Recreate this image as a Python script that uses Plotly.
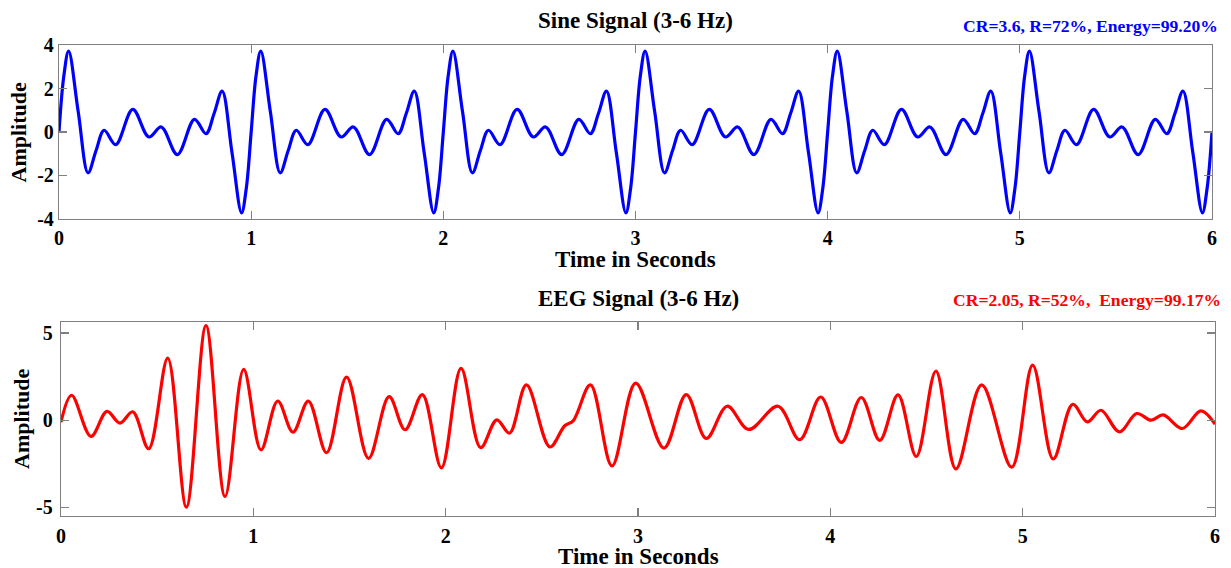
import plotly.graph_objects as go

# ---------------- data ----------------
# Sine signal (3-6 Hz): extrema and a few intermediate points, 6 periods
sine_t = [
    0.000, 0.025, 0.050, 0.100, 0.151, 0.193, 0.235, 0.295, 0.384, 0.468, 0.532, 0.616, 0.705, 0.765, 0.807, 0.849, 0.900, 0.950, 0.975,
    1.000, 1.025, 1.050, 1.100, 1.151, 1.193, 1.235, 1.295, 1.384, 1.468, 1.532, 1.616, 1.705, 1.765, 1.807, 1.849, 1.900, 1.950, 1.975,
    2.000, 2.025, 2.050, 2.100, 2.151, 2.193, 2.235, 2.295, 2.384, 2.468, 2.532, 2.616, 2.705, 2.765, 2.807, 2.849, 2.900, 2.950, 2.975,
    3.000, 3.025, 3.050, 3.100, 3.151, 3.193, 3.235, 3.295, 3.384, 3.468, 3.532, 3.616, 3.705, 3.765, 3.807, 3.849, 3.900, 3.950, 3.975,
    4.000, 4.025, 4.050, 4.100, 4.151, 4.193, 4.235, 4.295, 4.384, 4.468, 4.532, 4.616, 4.705, 4.765, 4.807, 4.849, 4.900, 4.950, 4.975,
    5.000, 5.025, 5.050, 5.100, 5.151, 5.193, 5.235, 5.295, 5.384, 5.468, 5.532, 5.616, 5.705, 5.765, 5.807, 5.849, 5.900, 5.950, 5.975,
    6.000,
]
sine_y = [
    0.00, 2.56, 3.72, 0.93, -1.88, -0.85, 0.08, -0.58, 1.04, -0.23, 0.23, -1.04, 0.58, -0.08, 0.85, 1.88, -0.93, -3.72, -2.56,
    0.00, 2.56, 3.72, 0.93, -1.88, -0.85, 0.08, -0.58, 1.04, -0.23, 0.23, -1.04, 0.58, -0.08, 0.85, 1.88, -0.93, -3.72, -2.56,
    0.00, 2.56, 3.72, 0.93, -1.88, -0.85, 0.08, -0.58, 1.04, -0.23, 0.23, -1.04, 0.58, -0.08, 0.85, 1.88, -0.93, -3.72, -2.56,
    0.00, 2.56, 3.72, 0.93, -1.88, -0.85, 0.08, -0.58, 1.04, -0.23, 0.23, -1.04, 0.58, -0.08, 0.85, 1.88, -0.93, -3.72, -2.56,
    0.00, 2.56, 3.72, 0.93, -1.88, -0.85, 0.08, -0.58, 1.04, -0.23, 0.23, -1.04, 0.58, -0.08, 0.85, 1.88, -0.93, -3.72, -2.56,
    0.00, 2.56, 3.72, 0.93, -1.88, -0.85, 0.08, -0.58, 1.04, -0.23, 0.23, -1.04, 0.58, -0.08, 0.85, 1.88, -0.93, -3.72, -2.56,
    0.00,
]

# EEG signal (3-6 Hz): extrema
eeg_t = [
    0.000, 0.055, 0.156, 0.239, 0.307, 0.373, 0.456, 0.555, 0.652, 0.754,
    0.853, 0.950, 1.040, 1.127, 1.206, 1.286, 1.381, 1.485, 1.599, 1.706,
    1.789, 1.879, 1.978, 2.080, 2.182, 2.266, 2.332, 2.420, 2.542, 2.619,
    2.663, 2.753, 2.865, 2.988, 3.135, 3.251, 3.355, 3.464, 3.575, 3.728,
    3.841, 3.950, 4.057, 4.161, 4.257, 4.352, 4.447, 4.549, 4.653, 4.787,
    4.943, 5.052, 5.159, 5.260, 5.336, 5.407, 5.503, 5.593, 5.667, 5.731,
    5.830, 5.927, 6.000,
]
eeg_y = [
    -0.12, 1.43, -0.93, 0.50, -0.17, 0.48, -1.64, 3.56, -4.99, 5.43,
    -4.38, 2.91, -1.70, 1.10, -0.69, 1.09, -1.87, 2.47, -2.19, 1.35,
    -0.55, 1.47, -2.74, 2.97, -1.58, 0.02, -0.74, 2.02, -1.54, -0.32,
    -0.04, 2.02, -2.63, 2.13, -1.60, 1.47, -1.05, 0.80, -0.53, 0.80,
    -1.12, 1.33, -1.28, 1.30, -1.16, 1.45, -2.08, 2.82, -2.80, 2.02,
    -2.70, 3.16, -2.23, 0.91, -0.10, 0.57, -0.67, 0.38, 0.00, 0.30,
    -0.48, 0.53, -0.23,
]

x_tick_vals = [0, 1, 2, 3, 4, 5, 6]
x_tick_text = ["0", "1", "2", "3", "4", "5", "6"]
sine_tick_vals = [-4, -2, 0, 2, 4]
sine_tick_text = ["-4", "-2", "0", "2", "4"]
eeg_tick_vals = [-5, 0, 5]
eeg_tick_text = ["-5", "0", "5"]

title_top = "Sine Signal (3-6 Hz)"
title_bottom = "EEG Signal (3-6 Hz)"
stats_top = "CR=3.6, R=72%, Energy=99.20%"
stats_bottom = "CR=2.05, R=52%,  Energy=99.17%"
x_title = "Time in Seconds"
y_title = "Amplitude"

# ---------------- figure ----------------
SERIF = "Liberation Serif, Times New Roman, serif"

fig = go.Figure()
fig.add_trace(go.Scatter(
    x=sine_t, y=sine_y, mode="lines", xaxis="x", yaxis="y",
    line=dict(color="#0000FF", width=3.2, shape="spline", smoothing=1.0),
    showlegend=False, hoverinfo="skip"))
fig.add_trace(go.Scatter(
    x=eeg_t, y=eeg_y, mode="lines", xaxis="x2", yaxis="y2",
    line=dict(color="#FF0000", width=3.2, shape="spline", smoothing=1.0),
    showlegend=False, hoverinfo="skip"))

tickfont = dict(family=SERIF, size=20, color="black", weight="bold")
common = dict(showline=True, linecolor="#808080", linewidth=1.2, mirror="allticks",
              ticks="inside", ticklen=8, tickwidth=1.2, tickcolor="#808080",
              tickfont=tickfont, showgrid=False, zeroline=False, fixedrange=True)

fig.update_layout(
    width=1231, height=568,
    margin=dict(l=59, r=16, t=45, b=52),
    plot_bgcolor="white", paper_bgcolor="white",
    xaxis=dict(domain=[0.0, 0.9974], range=[0, 6], anchor="y",
               tickmode="array", tickvals=x_tick_vals, ticktext=x_tick_text,
               ticklabelstandoff=1, **common),
    yaxis=dict(domain=[0.6306, 1.0], range=[-4, 4], anchor="x",
               tickmode="array", tickvals=sine_tick_vals, ticktext=sine_tick_text,
               ticklabelstandoff=0, **common),
    xaxis2=dict(domain=[0.0017, 1.0], range=[0, 6], anchor="y2",
                tickmode="array", tickvals=x_tick_vals, ticktext=x_tick_text,
                ticklabelstandoff=2, **common),
    yaxis2=dict(domain=[0.0, 0.4125], range=[-5.5, 5.65], anchor="x2",
                tickmode="array", tickvals=eeg_tick_vals, ticktext=eeg_tick_text,
                ticklabelstandoff=3, **common),
)

bold23 = dict(family=SERIF, size=23, color="black", weight="bold")
bold22 = dict(family=SERIF, size=22, color="black", weight="bold")
ann = [
    dict(text=title_top, x=0.4987, y=1.051, font=bold23, xanchor="center", yanchor="middle"),
    dict(text=stats_top, x=1.0043, y=1.040, xanchor="right", yanchor="middle",
         font=dict(family=SERIF, size=17.6, color="#0000FF", weight="bold")),
    dict(text=x_title, x=0.4987, y=0.5456, font=bold23, xanchor="center", yanchor="middle"),
    dict(text=y_title, x=-0.0342, y=0.8153, font=bold22, textangle=-90, xanchor="center", yanchor="middle"),
    dict(text=title_bottom, x=0.5013, y=0.4628, font=bold23, xanchor="center", yanchor="middle"),
    dict(text=stats_bottom, x=1.0069, y=0.4586, xanchor="right", yanchor="middle",
         font=dict(family=SERIF, size=17.6, color="#FF0000", weight="bold")),
    dict(text=x_title, x=0.5009, y=-0.0870, font=bold23, xanchor="center", yanchor="middle"),
    dict(text=y_title, x=-0.0329, y=0.2059, font=bold22, textangle=-90, xanchor="center", yanchor="middle"),
]
for a in ann:
    fig.add_annotation(xref="paper", yref="paper", showarrow=False, **a)

# remove the browser's default 8px body margin so the figure fills the window exactly
fig.write_html(
    "out.html",
    config={"displayModeBar": False, "staticPlot": True},
    post_script="document.body.style.margin='0';document.body.style.overflow='hidden';",
)
